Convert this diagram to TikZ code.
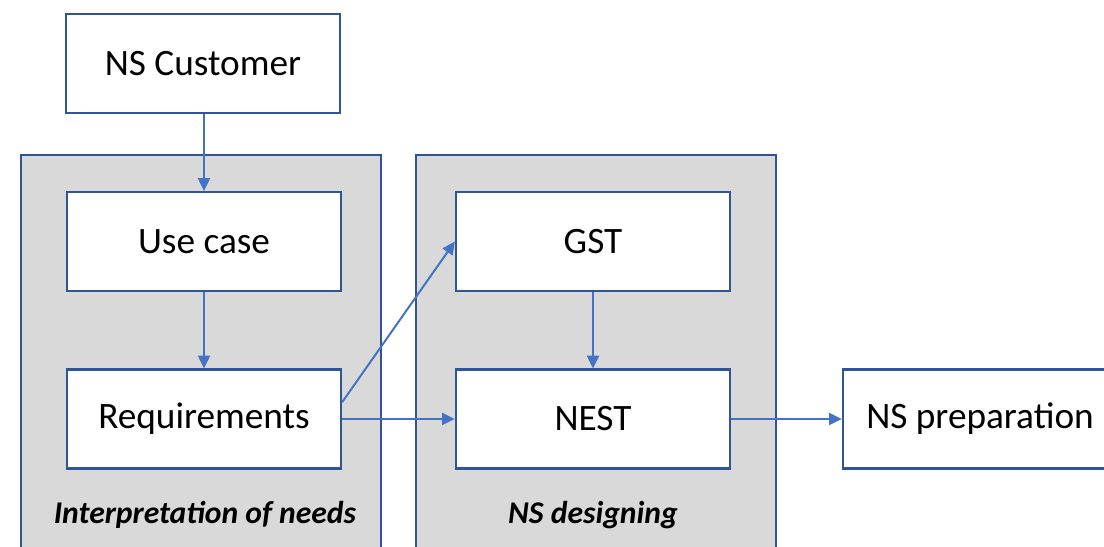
\documentclass[tikz,border=0pt]{standalone}
\usepackage{fontspec}
\setmainfont{Carlito}
\usepackage{tikz}
\usetikzlibrary{arrows.meta, positioning, calc}
\definecolor{cFrame}{RGB}{47,85,151}
\definecolor{cLink}{RGB}{68,114,196}
\definecolor{cPanel}{RGB}{217,217,217}
\tikzset{
	blk/.style  ={rectangle, draw=cFrame, line width=1.6pt, fill=white, minimum width=6.85cm, minimum height=2.47cm, align=center, font=\fontsize{26.5}{32}\selectfont},
	panel/.style={rectangle, draw=cFrame, line width=1.6pt, fill=cPanel, minimum width=9cm, minimum height=10.6cm, anchor=north west, inner sep=0pt},
	tag/.style  ={font=\fontsize{22.5}{26}\selectfont\bfseries\itshape},
	sig/.style  ={-{Triangle[length=3.2mm, width=3mm]}, line width=1.4pt, draw=cLink},
}
\begin{document}
\begin{tikzpicture}[x=0.025cm, y=-0.025cm]
	\useasboundingbox (0,0) rectangle (1104,546);
	\clip (0,0) rectangle (1104,546);
	% panels
	\node[panel] (left)  at (20,154)  {};
	\node[panel] (right) at (415,154) {};
	\node[tag] (needs)  at (205,515) {Interpretation of needs};
	\node[tag] (design) at (593,515) {NS designing};
	% boxes
	\node[blk] (cust) at (203,63.5)  {NS Customer};
	\node[blk] (use)  at (204,241.5) {Use case};
	\node[blk] (req)  at (204,419)   {Requirements};
	\node[blk] (gst)  at (593,241.5) {GST};
	\node[blk] (nest) at (593,419)   {NEST};
	\node[blk] (prep) at (980,419)   {NS preparation};
	% links
	\draw[sig] (cust.south -| use.north) -- (use.north);
	\draw[sig] (use) -- (req);
	\draw[sig] (gst) -- (nest);
	\draw[sig] ([yshift=0.42cm]req.east) -- (gst.west);
	\draw[sig] (req) -- (nest);
	\draw[sig] (nest) -- (prep);
\end{tikzpicture}
\end{document}
